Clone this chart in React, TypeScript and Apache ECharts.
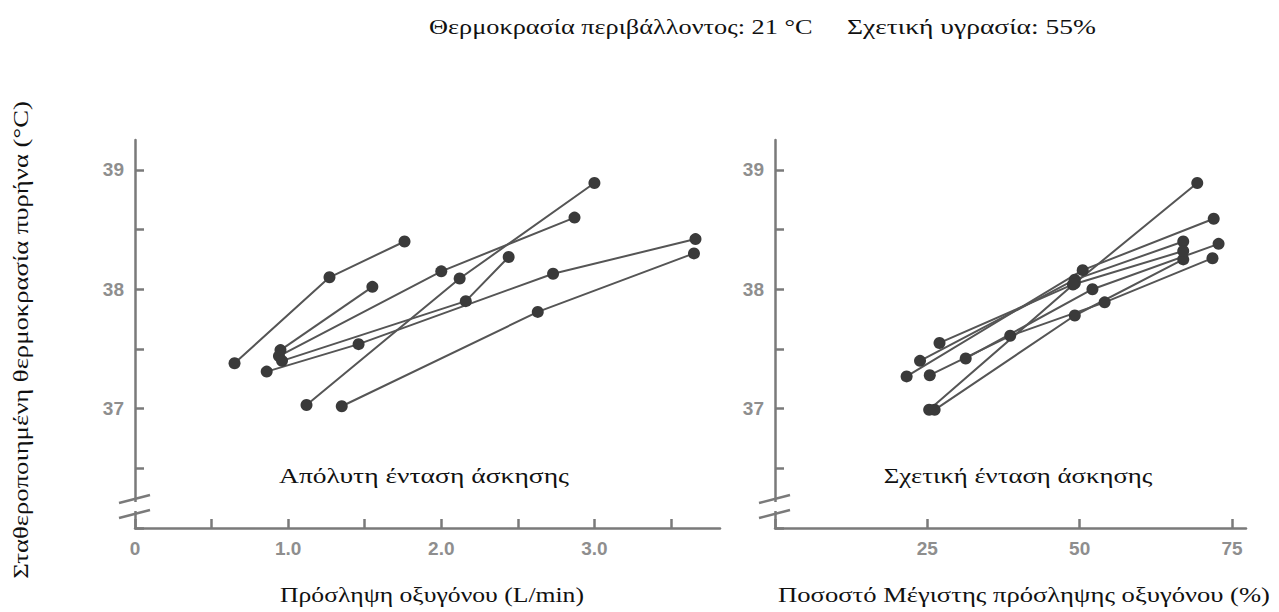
import React, { useEffect, useRef } from "react";
import * as echarts from "echarts";

// Left panel: absolute oxygen uptake (L/min) vs core temperature (°C)
const absSubject1 = [[0.65, 37.38], [1.27, 38.1], [1.76, 38.4]];
const absSubject2 = [[0.95, 37.49], [1.55, 38.02]];
const absSubject3 = [[0.94, 37.44], [2.0, 38.15], [2.87, 38.6]];
const absSubject4 = [[1.12, 37.03], [2.12, 38.09], [3.0, 38.89]];
const absSubject5 = [[1.35, 37.02], [2.63, 37.81], [3.65, 38.3]];
const absSubject6 = [[0.96, 37.4], [2.16, 37.9], [2.44, 38.27]];
const absSubject7 = [[0.86, 37.31], [1.46, 37.54], [2.73, 38.13], [3.66, 38.42]];

// Right panel: % of max oxygen uptake vs core temperature (°C)
const relSubject1 = [[25.3, 36.99], [49.2, 38.05], [69.3, 38.89]];
const relSubject2 = [[26.2, 36.99], [49.2, 37.78], [67.0, 38.25]];
const relSubject3 = [[21.6, 37.27], [50.5, 38.16], [72.0, 38.59]];
const relSubject4 = [[23.8, 37.4], [49.2, 38.08], [67.0, 38.4]];
const relSubject5 = [[27.0, 37.55], [48.9, 38.04], [67.0, 38.32]];
const relSubject6 = [[25.4, 37.28], [38.6, 37.61], [54.1, 37.89], [71.8, 38.26]];
const relSubject7 = [[31.3, 37.42], [52.1, 38.0], [72.8, 38.38]];

const absSubjects = [absSubject1, absSubject2, absSubject3, absSubject4, absSubject5, absSubject6, absSubject7];
const relSubjects = [relSubject1, relSubject2, relSubject3, relSubject4, relSubject5, relSubject6, relSubject7];

const absTickLabels = ["0", "1.0", "2.0", "3.0"];
const relTickLabels = ["25", "50", "75"];
const tempTickLabels = ["37", "38", "39"];

const titleLeft = "Θερμοκρασία περιβάλλοντος: 21 °C";
const titleRight = "Σχετική υγρασία: 55%";
const yTitle = "Σταθεροποιημένη θερμοκρασία πυρήνα (°C)";
const leftPanelLabel = "Απόλυτη ένταση άσκησης";
const rightPanelLabel = "Σχετική ένταση άσκησης";
const leftXTitle = "Πρόσληψη οξυγόνου (L/min)";
const rightXTitle = "Ποσοστό Μέγιστης πρόσληψης οξυγόνου (%)";

const AXIS_COLOR = "#7a7a7a";
const LABEL_COLOR = "#8e8e8e";
const SERIF = "Liberation Serif";
const SANS = "Liberation Sans";
const FS = 21;

function measure(text: string): number {
  const c = document.createElement("canvas").getContext("2d");
  if (!c) return text.length * 10;
  c.font = `${FS}px "${SERIF}"`;
  return c.measureText(text).width;
}

export default function App() {
  const ref = useRef<HTMLDivElement>(null);

  useEffect(() => {
    if (!ref.current) return;
    const chart = echarts.init(ref.current, undefined, { renderer: "svg" });

    const fmt = (v: number, labels: string[]) => {
      const found = labels.find((l) => Math.abs(parseFloat(l) - v) < 1e-6);
      return found ?? "";
    };

    const axisLine = { lineStyle: { color: AXIS_COLOR, width: 2.5 } };
    const axisTick = { inside: true, length: 9, lineStyle: { color: AXIS_COLOR, width: 2.5 } };
    const axisLabelBase = {
      color: LABEL_COLOR,
      fontFamily: SANS,
      fontWeight: "bold" as const,
      fontSize: 19,
      showMaxLabel: false,
    };

    const mkSeries = (data: number[][], idx: number) => ({
      type: "line",
      xAxisIndex: idx,
      yAxisIndex: idx,
      data,
      symbol: "circle",
      symbolSize: 12,
      itemStyle: { color: "#3a3a3a" },
      lineStyle: { color: "#555555", width: 2 },
      silent: true,
    });

    const breakMarks = (ax: number) => [
      { type: "rect", shape: { x: ax - 3, y: 502, width: 6, height: 9 }, style: { fill: "#fff" }, z: 100 },
      { type: "line", shape: { x1: ax - 16, y1: 503, x2: ax + 15, y2: 495 }, style: { stroke: AXIS_COLOR, lineWidth: 2.5 }, z: 101 },
      { type: "line", shape: { x1: ax - 16, y1: 518, x2: ax + 15, y2: 510 }, style: { stroke: AXIS_COLOR, lineWidth: 2.5 }, z: 101 },
    ];

    // text fitted horizontally to the span it covers in the reference
    const fittedText = (text: string, x: number, y: number, span: number, align: string, rotation = 0) => ({
      type: "text",
      x,
      y,
      rotation,
      scaleX: span / measure(text),
      style: {
        text,
        fill: "#111",
        fontFamily: SERIF,
        fontSize: FS,
        align,
        verticalAlign: "middle",
      },
    });

    chart.setOption({
      animation: false,
      backgroundColor: "#fff",
      grid: [
        { left: 135, top: 140, width: 585, height: 388 },
        { left: 775, top: 140, width: 471, height: 388 },
      ],
      xAxis: [
        {
          gridIndex: 0, type: "value", min: 0, max: 3.82, interval: 0.5,
          splitLine: { show: false }, axisLine, axisTick,
          axisLabel: { ...axisLabelBase, margin: 11, formatter: (v: number) => fmt(v, absTickLabels) },
        },
        {
          gridIndex: 1, type: "value", min: 0, max: 77.3, interval: 25,
          splitLine: { show: false }, axisLine, axisTick,
          axisLabel: { ...axisLabelBase, margin: 11, formatter: (v: number) => fmt(v, relTickLabels) },
        },
      ],
      yAxis: [
        {
          gridIndex: 0, type: "value", min: 36, max: 39.25, interval: 0.5,
          splitLine: { show: false }, axisLine, axisTick,
          axisLabel: { ...axisLabelBase, margin: 11, formatter: (v: number) => fmt(v, tempTickLabels) },
        },
        {
          gridIndex: 1, type: "value", min: 36, max: 39.25, interval: 0.5,
          splitLine: { show: false }, axisLine, axisTick,
          axisLabel: { ...axisLabelBase, margin: 11, formatter: (v: number) => fmt(v, tempTickLabels) },
        },
      ],
      series: [
        ...absSubjects.map((d) => mkSeries(d, 0)),
        ...relSubjects.map((d) => mkSeries(d, 1)),
      ],
      graphic: [
        fittedText(titleLeft, 429, 27, 384, "left"),
        fittedText(titleRight, 847, 27, 249, "left"),
        fittedText(yTitle, 21, 340, 478, "center", Math.PI / 2),
        fittedText(leftPanelLabel, 424, 476, 290, "center"),
        fittedText(rightPanelLabel, 1018, 476, 269, "center"),
        fittedText(leftXTitle, 432, 595, 304, "center"),
        fittedText(rightXTitle, 1024, 595, 492, "center"),
        ...breakMarks(135),
        ...breakMarks(775),
      ],
    });

    return () => chart.dispose();
  }, []);

  return (
    <div
      ref={ref}
      style={{ position: "absolute", left: 0, top: 0, width: 1279, height: 612, background: "#fff" }}
    />
  );
}
